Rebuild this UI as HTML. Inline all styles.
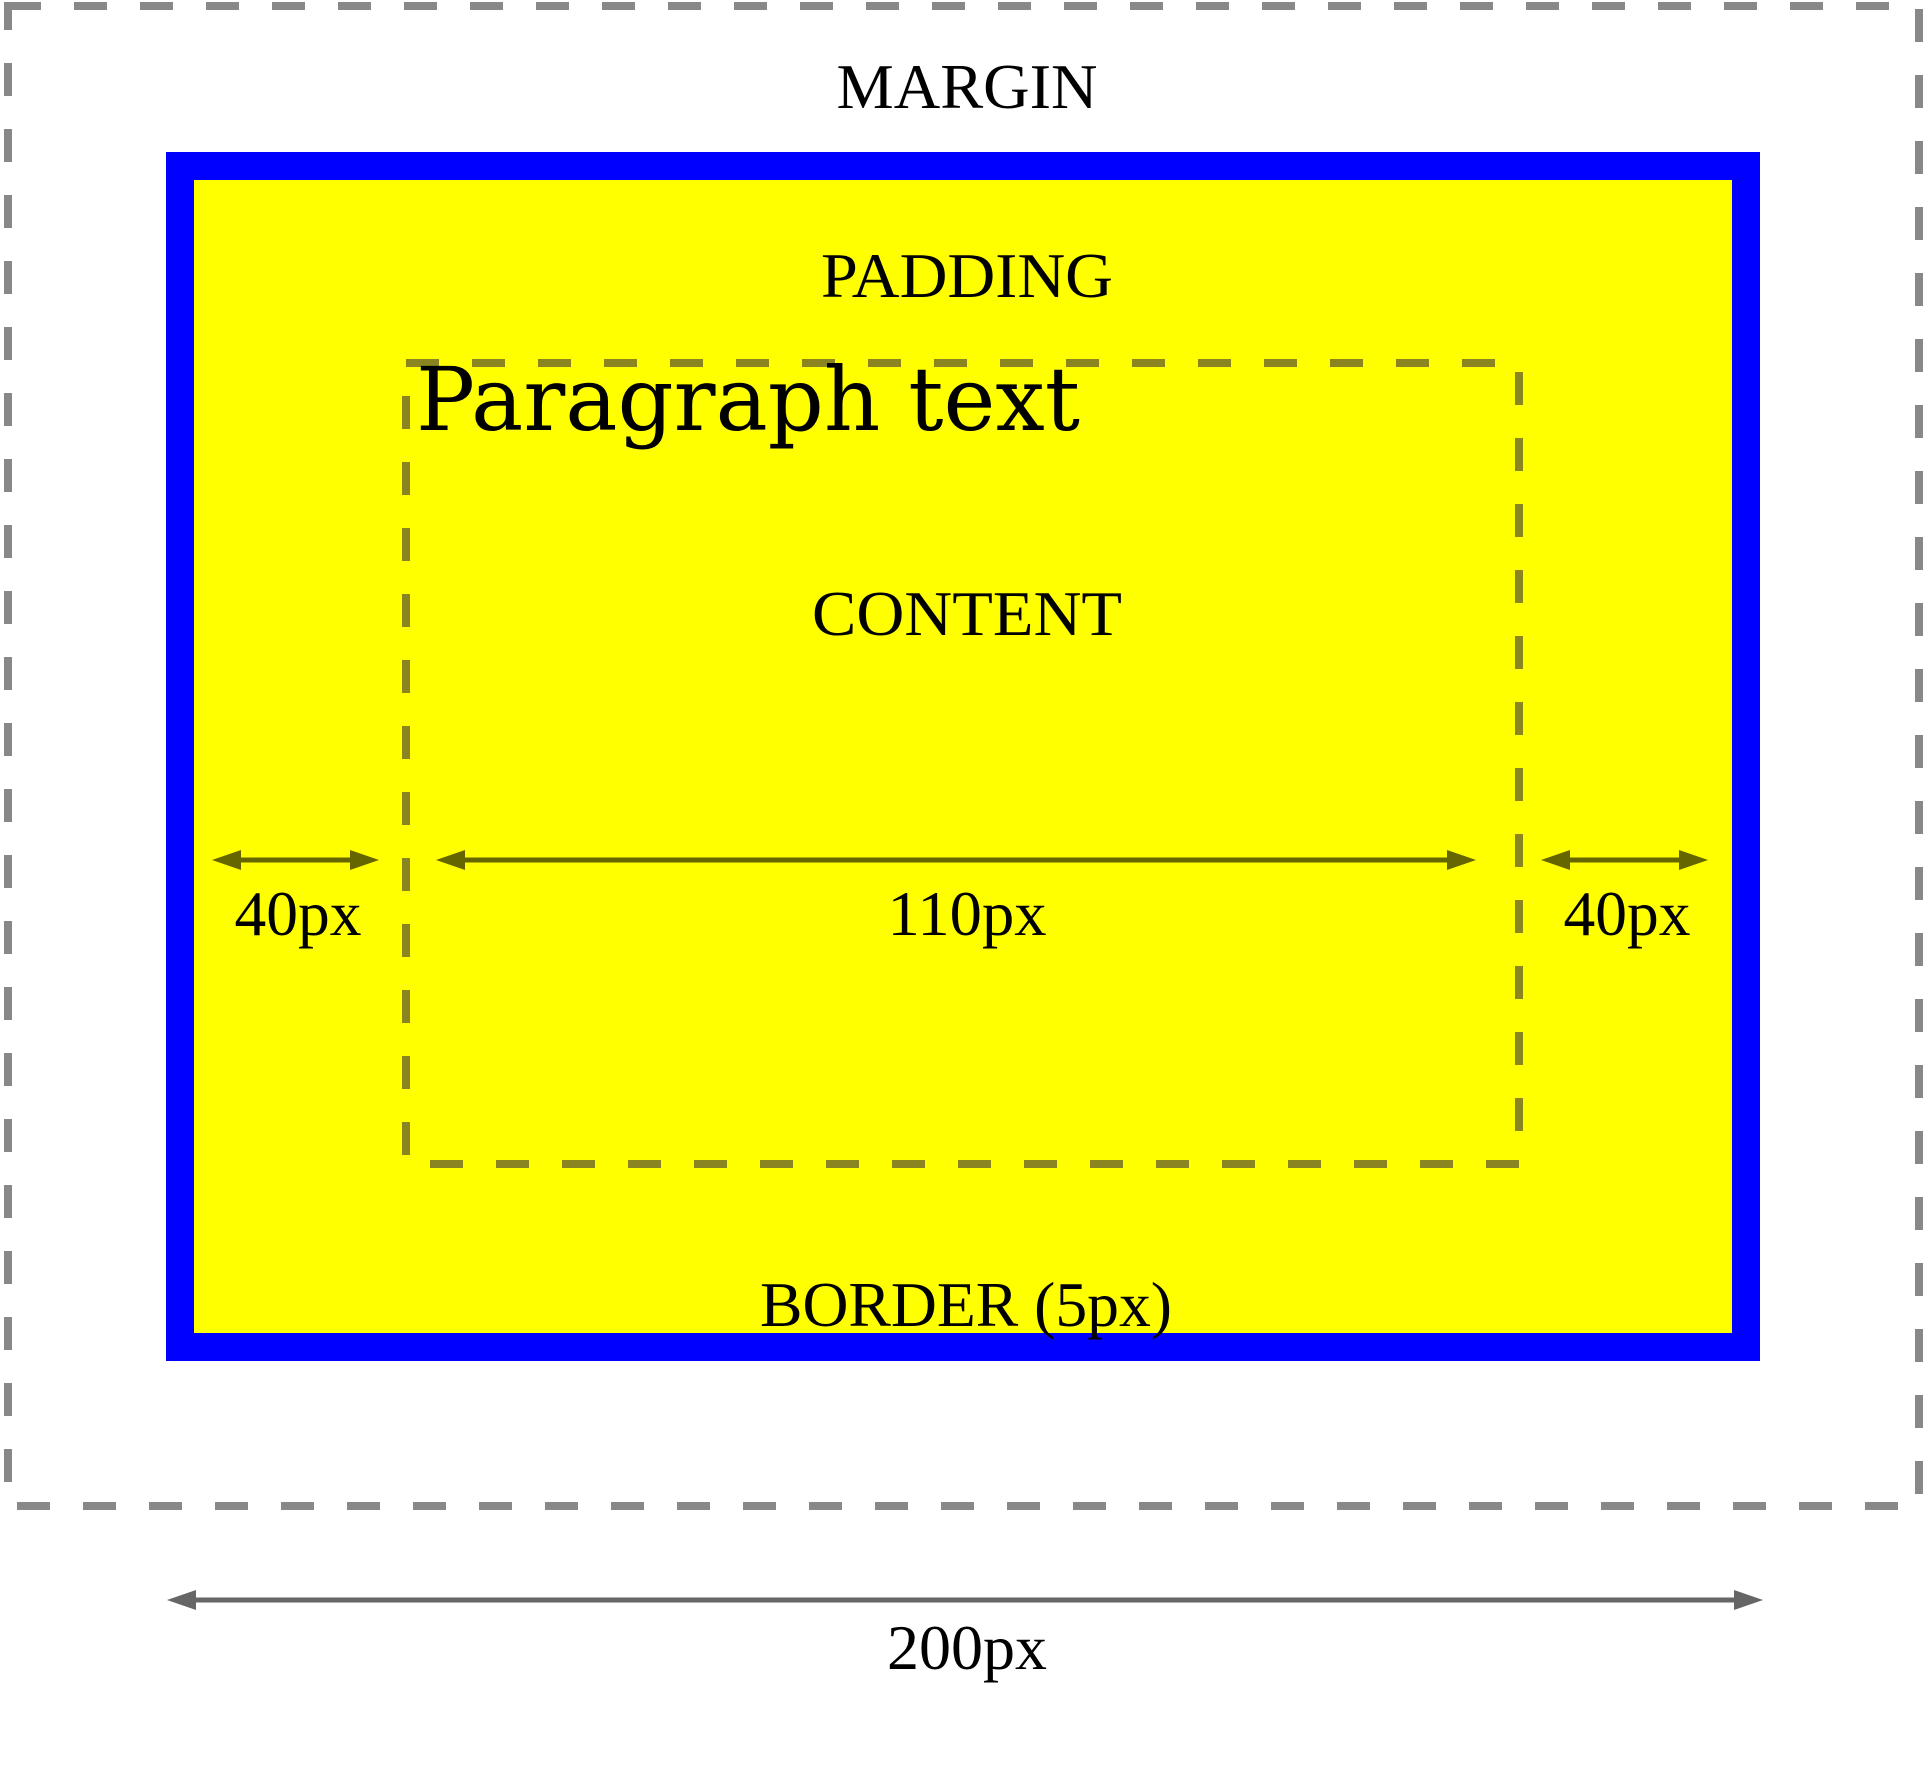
<!DOCTYPE html>
<html><head><meta charset="utf-8"><style>
html,body{margin:0;padding:0;background:#fff;}
svg{display:block;}
text{font-family:"Liberation Serif",serif;font-size:64px;fill:#000;}
</style></head><body>
<svg width="1929" height="1771" viewBox="0 0 1929 1771">
<rect x="8" y="6" width="1911" height="1500" fill="none" stroke="#888" stroke-width="8" stroke-dasharray="33,33"/>
<rect x="180" y="166" width="1566" height="1181" fill="#ff0" stroke="#00f" stroke-width="28"/>
<rect x="406" y="363" width="1113" height="801" fill="none" stroke="#8a8520" stroke-width="8" stroke-dasharray="33,33"/>
<text x="967" y="108" text-anchor="middle" textLength="261" lengthAdjust="spacingAndGlyphs">MARGIN</text>
<text x="967" y="297" text-anchor="middle" textLength="292" lengthAdjust="spacingAndGlyphs">PADDING</text>
<text x="416" y="430" style="font-family:'DejaVu Serif',serif;font-size:88px" textLength="664" lengthAdjust="spacingAndGlyphs">Paragraph text</text>
<text x="967" y="635" text-anchor="middle" textLength="310" lengthAdjust="spacingAndGlyphs">CONTENT</text>
<text x="966" y="1326" text-anchor="middle" textLength="412" lengthAdjust="spacingAndGlyphs">BORDER (5px)</text>
<g fill="#666600" stroke="#666600">
<line x1="230" y1="860" x2="360" y2="860" stroke-width="5"/>
<polygon points="212,860 241,850 241,870" stroke="none"/>
<polygon points="379,860 350,850 350,870" stroke="none"/>
</g>
<g fill="#666600" stroke="#666600">
<line x1="455" y1="860" x2="1457" y2="860" stroke-width="5"/>
<polygon points="436,860 465,850 465,870" stroke="none"/>
<polygon points="1476,860 1447,850 1447,870" stroke="none"/>
</g>
<g fill="#666600" stroke="#666600">
<line x1="1560" y1="860" x2="1690" y2="860" stroke-width="5"/>
<polygon points="1541,860 1570,850 1570,870" stroke="none"/>
<polygon points="1708,860 1679,850 1679,870" stroke="none"/>
</g>
<text x="298" y="935" text-anchor="middle" textLength="127" lengthAdjust="spacingAndGlyphs">40px</text>
<text x="967" y="935" text-anchor="middle" textLength="159" lengthAdjust="spacingAndGlyphs">110px</text>
<text x="1627" y="935" text-anchor="middle" textLength="127" lengthAdjust="spacingAndGlyphs">40px</text>
<g fill="#666" stroke="#666">
<line x1="185" y1="1600" x2="1745" y2="1600" stroke-width="5"/>
<polygon points="167,1600 196,1590 196,1610" stroke="none"/>
<polygon points="1763,1600 1734,1590 1734,1610" stroke="none"/>
</g>
<text x="967" y="1669" text-anchor="middle" textLength="160" lengthAdjust="spacingAndGlyphs">200px</text>
</svg>
</body></html>
